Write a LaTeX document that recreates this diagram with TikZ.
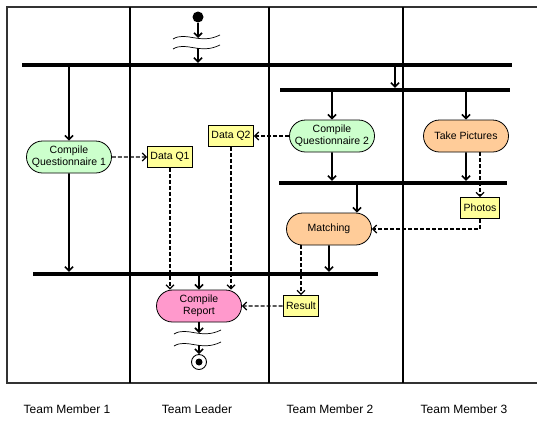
\documentclass[tikz,border=0pt]{standalone}
\usepackage{fontspec}
\setmainfont{Liberation Sans}
\usetikzlibrary{positioning, arrows.meta, calc, shapes.misc}

\definecolor{actgreen}{HTML}{CCFFCC}
\definecolor{actorange}{HTML}{FFCC99}
\definecolor{actpink}{HTML}{FF99CC}
\definecolor{objyellow}{HTML}{FFFF99}
\definecolor{framegray}{HTML}{333333}

\tikzset{
    activity/.style={rounded rectangle, draw, line width=0.8pt, minimum width=87pt,
        minimum height=32pt, inner sep=1pt, align=center,
        font=\fontsize{10.5}{12}\selectfont},
    object/.style={rectangle, draw, line width=0.8pt, fill=objyellow, minimum height=21pt,
        inner xsep=3pt, font=\fontsize{10.5}{12}\selectfont},
    bar/.style={rectangle, fill=black, minimum height=4pt, inner sep=0pt},
    startstate/.style={circle, fill=black, minimum size=11pt, inner sep=0pt},
    finalstate/.style={circle, draw, line width=0.9pt, minimum size=15pt, inner sep=0pt,
        path picture={\fill (path picture bounding box.center) circle (3.5pt);}},
    flow/.style={line width=1.6pt, -{Straight Barb[length=4pt,width=8pt]}},
    dataflow/.style={line width=1.2pt, dash pattern=on 4pt off 2pt,
        -{Straight Barb[length=4pt,width=8pt]}},
    lane/.style={line width=1.2pt},
    lanename/.style={font=\fontsize{12}{14}\selectfont},
}

\begin{document}
\begin{tikzpicture}[x=1pt, y=-1pt]
    \useasboundingbox (0,0) rectangle (537,421);

    % swimlanes
    \draw[lane, framegray] (537,7) -- (7,7) -- (7,383) -- (537,383);
    \foreach \x in {130,269,403}
        \draw[lane] (\x,7) -- (\x,383);

    \node[startstate] (start) at (198,17) {};
    \coordinate (w1) at (198,38);
    \coordinate (w2) at (198,48);

    \node[bar, minimum width=490pt] (bar1) at (267,65) {};
    \node[bar, minimum width=230pt] (bar2) at (395,90) {};
    \node[bar, minimum width=228pt] (bar3) at (393,183) {};
    \node[bar, minimum width=345pt] (bar4) at (205.5,274) {};

    \node[activity, fill=actgreen] (cq1) at (69,157) {Compile\\Questionnaire 1};
    \node[object] (dq1) at (170,157) {Data Q1};
    \node[object] (dq2) at (231,136) {Data Q2};
    \node[activity, fill=actgreen] (cq2) at (332,136) {Compile\\Questionnaire 2};
    \node[activity, fill=actorange] (tp) at (466,136) {Take Pictures};
    \node[object] (photos) at (480,208) {Photos};
    \node[activity, fill=actorange] (match) at (329,229) {Matching};
    \node[object] (result) at (301,306) {Result};
    \node[activity, fill=actpink] (report) at (199,306) {Compile\\Report};

    \coordinate (w3) at (199,333);
    \coordinate (w4) at (199,345);
    \node[finalstate] (end) at (199,362) {};

    % wavy marks
    \foreach \w in {w1,w2,w3,w4}
        \draw[line width=0.7pt] ($(\w)+(-25,1)$) .. controls ($(\w)+(-12,-7)$)
            and ($(\w)+(2,7)$) .. ($(\w)+(22,-3)$);

    \path[flow]
        (start) edge (w1)
        (w2) edge (w2 |- bar1.north)
        (bar1.south -| cq1) edge (cq1)
        (bar2.north |- bar1.south) edge (bar2.north)
        (bar2.south -| cq2) edge (cq2)
        (bar2.south -| tp) edge (tp)
        (cq2) edge (cq2 |- bar3.north)
        (tp) edge (tp |- bar3.north)
        ([xshift=28pt]match.north |- bar3.south) edge ([xshift=28pt]match.north)
        (match) edge (match |- bar4.north)
        (cq1) edge (cq1 |- bar4.north)
        (bar4.south -| report) edge (report)
        (report) edge (w3)
        (w4) edge (end)
        ;

    \path[dataflow]
        (cq1) edge (dq1)
        (cq2) edge (dq2)
        (dq1) edge (dq1 |- report.north)
        (dq2) edge (dq2 |- report.north)
        (tp.south -| photos) edge (photos)
        (match.south -| result) edge (result)
        (result) edge (report)
        ;
    \draw[dataflow] (photos.south) |- (match.east);

    % lane names
    \node[lanename] (m1) at (67,409) {Team Member 1};
    \node[lanename] (lead) at (197,409) {Team Leader};
    \node[lanename] (m2) at (330,409) {Team Member 2};
    \node[lanename] (m3) at (464,409) {Team Member 3};
\end{tikzpicture}
\end{document}
